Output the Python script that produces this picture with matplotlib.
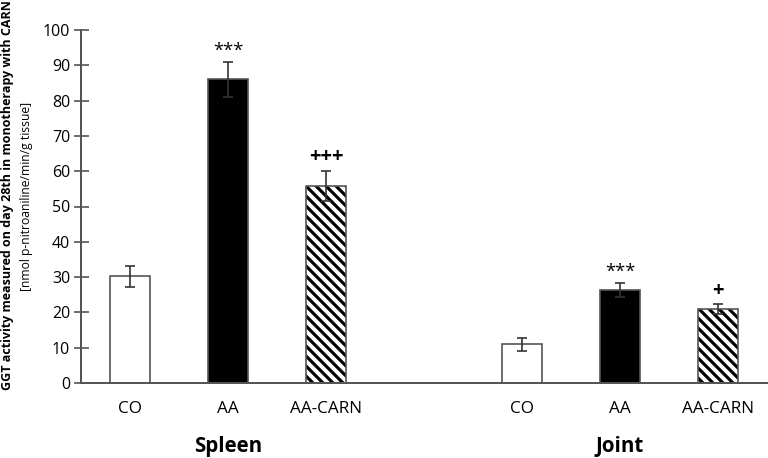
import matplotlib
matplotlib.use("Agg")
import matplotlib.pyplot as plt
import numpy as np

plt.rcParams['font.family'] = ['Open Sans', 'DejaVu Sans']
plt.rcParams['hatch.linewidth'] = 1.9

# data
groups = ["Spleen", "Joint"]
treatments = ["CO", "AA", "AA-CARN"]
spleen_vals = [30.2, 86.0, 55.8]
spleen_err = [3.0, 5.0, 4.2]
joint_vals = [11.0, 26.3, 21.0]
joint_err = [1.8, 2.0, 1.4]
spleen_marks = ["", "***", "+++"]
joint_marks = ["", "***", "+"]

DPI = 120
fig = plt.figure(figsize=(768 / DPI, 458 / DPI), dpi=DPI)
ax = fig.add_axes([81 / 768, 1 - 383 / 458, 1 - 81 / 768, 353 / 458])

edge = "#555555"
faces = ["white", "black", "white"]
hatches = [None, None, "\\\\\\\\"]
width = 0.41

positions = [[0, 1, 2], [4, 5, 6]]
values = [spleen_vals, joint_vals]
errors = [spleen_err, joint_err]
marks = [spleen_marks, joint_marks]
mark_offset = {"***": 6.5, "+++": 8.5, "+": 7.5}

for pos, vals, errs, mk in zip(positions, values, errors, marks):
    for x, v, e, m, fc, h in zip(pos, vals, errs, mk, faces, hatches):
        if h:
            # black hatch lines, then the grey outline on top
            ax.bar(x, v, width=width, color=fc, edgecolor="black", linewidth=0,
                   hatch=h, zorder=2)
            ax.bar(x, v, width=width, fill=False, edgecolor=edge, linewidth=1.0,
                   zorder=2.5)
        else:
            ax.bar(x, v, width=width, color=fc, edgecolor=edge, linewidth=1.0,
                   zorder=2)
        ax.errorbar(x, v, yerr=e, fmt="none", ecolor="#333333", elinewidth=1.0,
                    capsize=2.8, capthick=1.0, zorder=3)
        if m:
            ax.annotate(m, (x, v + e), xytext=(0, mark_offset[m]),
                        textcoords="offset points", ha="center", va="center",
                        fontsize=11 if m == "***" else 12,
                        fontweight="normal" if m == "***" else "bold")

ax.set_xlim(-0.5, 6.51)
ax.set_ylim(0, 100)
ax.set_yticks(np.arange(0, 101, 10))
ax.set_xticks([p for pos in positions for p in pos])
ax.set_xticklabels(treatments * 2, fontsize=10.3)
ax.tick_params(axis="y", direction="inout", length=9, width=1.0, color=edge,
               labelsize=9.6, pad=2)
ax.tick_params(axis="x", length=0, pad=11)

for s in ["top", "right"]:
    ax.spines[s].set_visible(False)
for s in ["left", "bottom"]:
    ax.spines[s].set_color(edge)
    ax.spines[s].set_linewidth(1.2)

# group labels
for pos, g in zip(positions, groups):
    ax.text(pos[1], -18, g, ha="center", va="center", fontsize=12.3,
            fontweight="bold", transform=ax.transData, clip_on=False)

fig.text(8 / 768, 1 - 195 / 458,
         "GGT activity measured on day 28th in monotherapy with CARN",
         rotation=90, ha="center", va="center", fontsize=7.5, fontweight="bold")
fig.text(27 / 768, 1 - 196 / 458, "[nmol p-nitroaniline/min/g tissue]",
         rotation=90, ha="center", va="center", fontsize=7.3)

fig.savefig("out.png", dpi=DPI)
